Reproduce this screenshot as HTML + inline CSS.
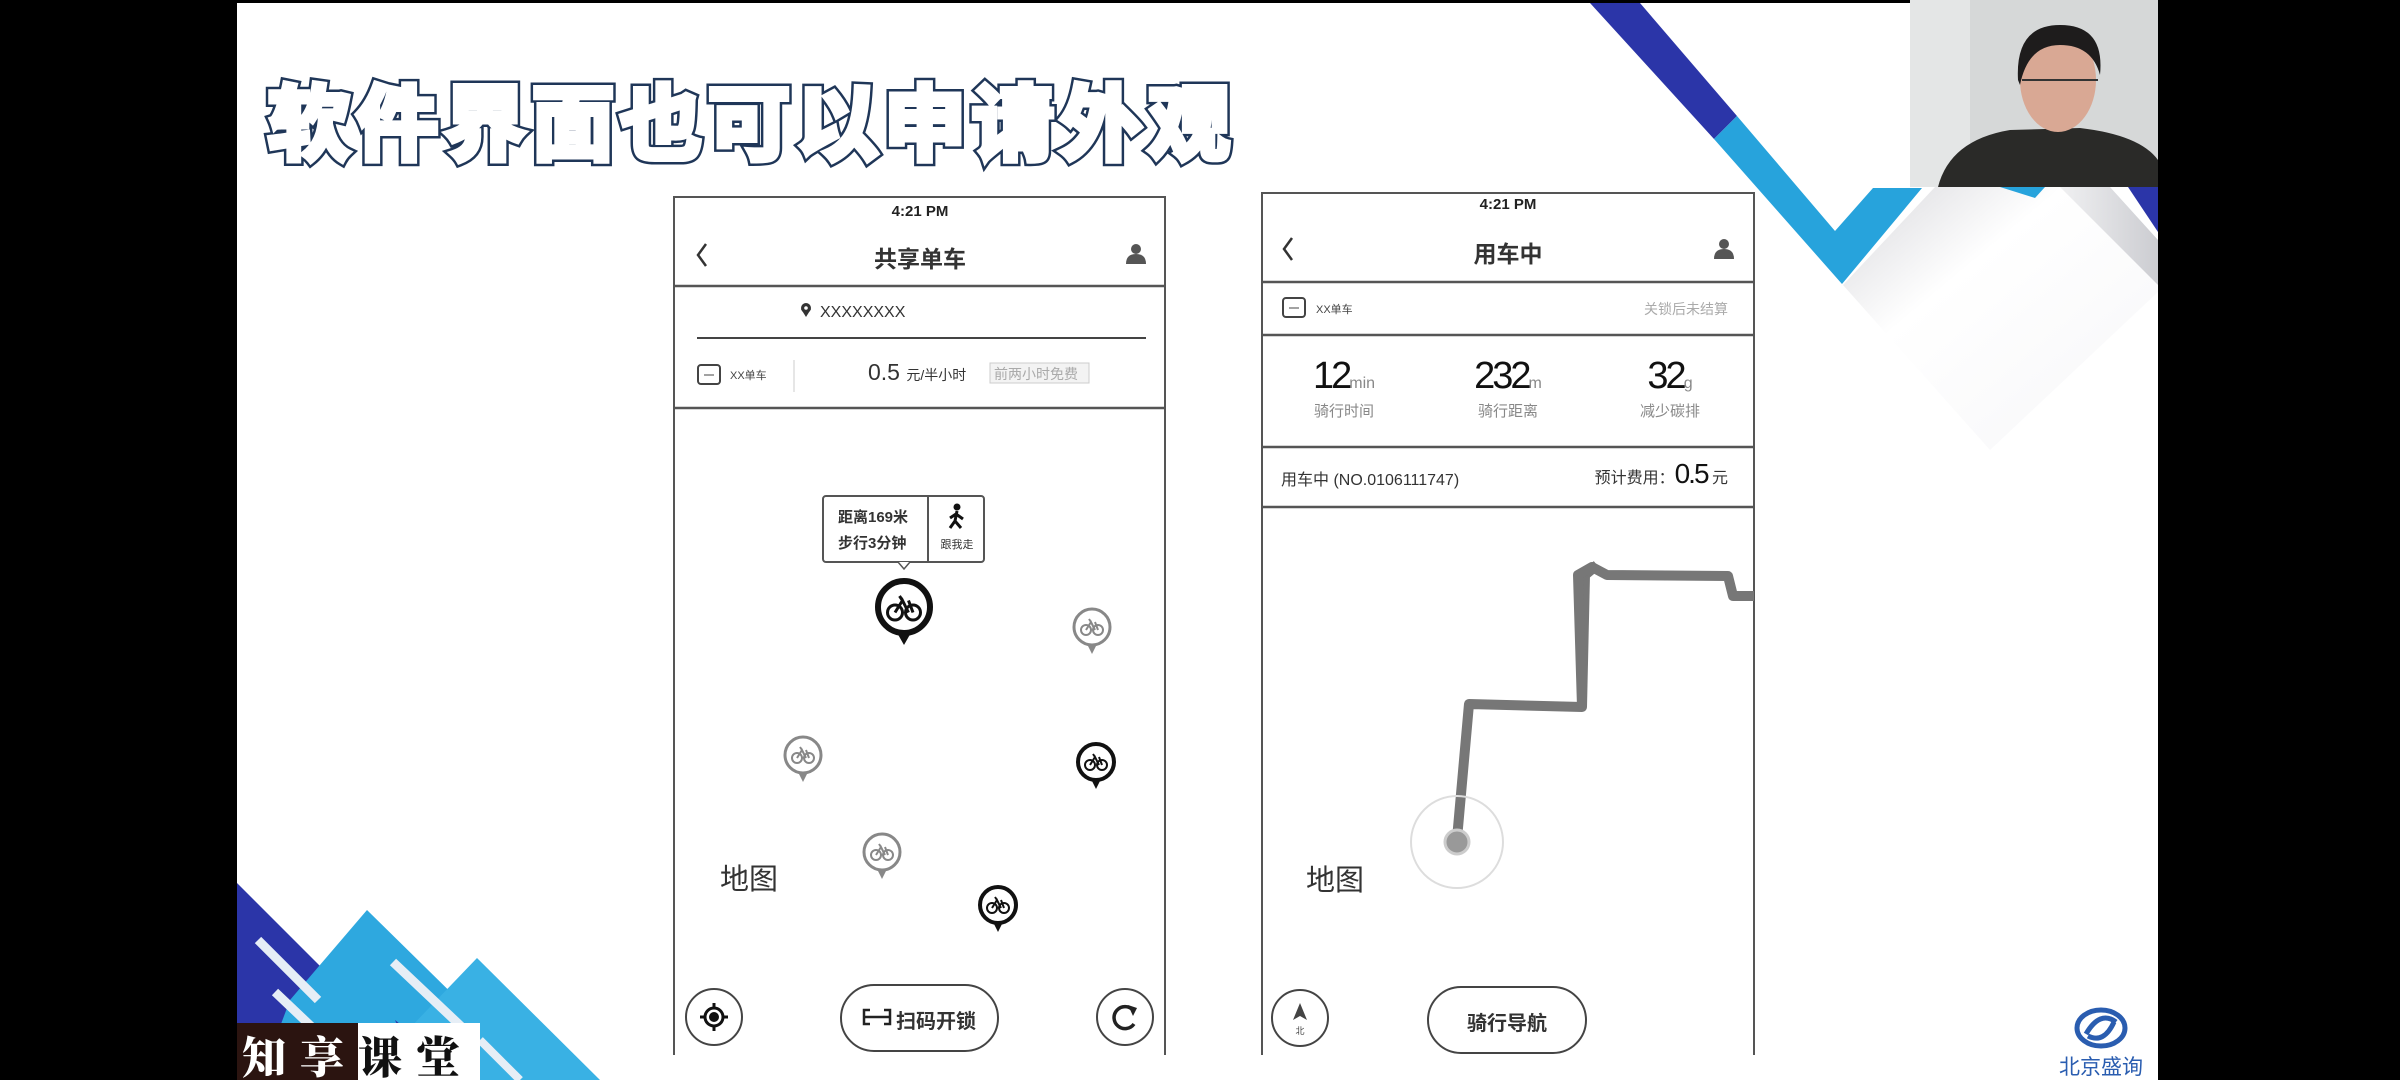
<!DOCTYPE html>
<html><head><meta charset="utf-8">
<style>
*{margin:0;padding:0;box-sizing:border-box}
html,body{width:2400px;height:1080px;overflow:hidden;background:#000}
body{position:relative;font-family:"Liberation Sans","Noto Sans CJK SC",sans-serif;color:#222}
.a{position:absolute;white-space:nowrap}
.ttl{position:absolute;left:268px;top:68px;font-family:"Noto Sans CJK SC",sans-serif;font-weight:700;font-size:82px;letter-spacing:6px;line-height:100px;white-space:nowrap}
.c{transform:translateX(-50%)}
</style></head><body>
<div class="a" style="left:237px;top:3px;width:1921px;height:1077px;background:#fff"></div>

<svg class="a" style="left:0;top:0" width="2400" height="1080" viewBox="0 0 2400 1080">
 <defs>
  <linearGradient id="sh" x1="0" y1="0" x2="1" y2="1"><stop offset="0" stop-color="#d8d8dc"/><stop offset="0.35" stop-color="#fff"/><stop offset="1" stop-color="#f6f6f8"/></linearGradient>
  <linearGradient id="sh2" x1="0" y1="0" x2="1" y2="0"><stop offset="0" stop-color="#fff"/><stop offset="1" stop-color="#bfc0c6"/></linearGradient>
  <g id="bk" fill="none" stroke-width="2"><circle cx="-6" cy="3" r="5"/><circle cx="6" cy="3" r="5"/><path d="M-6,3 L-1,-5 L3,3 M-1,-5 L-3,-8 M3,-5 L6,3"/></g>
 </defs>
 <polygon points="1843,285 1935,187 2060,187 2158,285 2158,292 1990,450" fill="url(#sh)"/>
 <polygon points="2020,187 2060,187 2158,285 2158,240 2110,187" fill="url(#sh2)" opacity="0.8"/>
 <polygon points="1590,3 1640,3 1737,116 1714,139" fill="#2b35a8"/>
 <polygon points="1714,139 1737,116 1835,231 1873,188 1922,188 1842,284" fill="#27a3dc"/>
 <polygon points="2128,187 2158,187 2158,232" fill="#2b35a8"/>
 <polygon points="2000,187 2045,187 2035,198" fill="#27a3dc"/>
 <polygon points="237,883 434,1080 237,1080" fill="#2b35a8"/>
 <polygon points="367,910 540,1080 260,1080 290,1000" fill="#2ea8df"/>
 <polygon points="477,958 600,1080 360,1080" fill="#39b1e4"/>
 <polygon points="395,1020 470,1080 420,1080" fill="#2b35a8"/>
 <line x1="258" y1="940" x2="318" y2="1000" stroke="#e6eef6" stroke-width="9"/>
 <line x1="275" y1="992" x2="315" y2="1030" stroke="#e6eef6" stroke-width="9"/>
 <line x1="393" y1="962" x2="465" y2="1030" stroke="#e6eef6" stroke-width="9"/>
 <line x1="480" y1="1040" x2="520" y2="1080" stroke="#e6eef6" stroke-width="8"/>
 <ellipse cx="2101" cy="1028" rx="24" ry="18" fill="none" stroke="#2a5db0" stroke-width="5"/>
 <path d="M2086,1034 Q2100,1010 2116,1022 M2088,1036 Q2104,1044 2114,1022" stroke="#2a5db0" stroke-width="5" fill="none"/>

 <rect x="674" y="197" width="491" height="880" fill="#fff" stroke="#555" stroke-width="2"/>
 <line x1="674" y1="286" x2="1165" y2="286" stroke="#555" stroke-width="2.5"/>
 <line x1="697" y1="338" x2="1146" y2="338" stroke="#444" stroke-width="2"/>
 <line x1="674" y1="408" x2="1165" y2="408" stroke="#555" stroke-width="2.5"/>
 <path d="M706,244 L698,255 L706,266" fill="none" stroke="#333" stroke-width="2.5"/>
 <circle cx="1136" cy="249" r="5" fill="#555"/><path d="M1126,264 Q1126,254 1136,254 Q1146,254 1146,264 Z" fill="#555"/>
 <circle cx="806" cy="308" r="5" fill="#333"/><path d="M801,309 L806,317 L811,309Z" fill="#333"/><circle cx="806" cy="308" r="1.8" fill="#fff"/>
 <rect x="698" y="365" width="22" height="19" rx="3" fill="none" stroke="#444" stroke-width="2"/><line x1="704" y1="375" x2="714" y2="375" stroke="#444"/>
 <line x1="794" y1="360" x2="794" y2="392" stroke="#ddd" stroke-width="1.5"/>
 <rect x="990" y="363" width="99" height="20" fill="#f3f3f3" stroke="#ccc"/>
 <rect x="823" y="496" width="161" height="66" rx="3" fill="#fff" stroke="#555" stroke-width="2"/>
 <line x1="928" y1="496" x2="928" y2="562" stroke="#555" stroke-width="2"/>
 <path d="M898,562 L904,569 L910,562" fill="#fff" stroke="#555" stroke-width="1.5"/>
 <circle cx="957" cy="507" r="3.5" fill="#111"/>
 <path d="M957,511 L955,521 L950,528 M955,521 L961,528 M956,514 L950,518 M956,514 L963,519" stroke="#111" stroke-width="3" fill="none"/>
 <circle cx="904" cy="607" r="26" fill="#fff" stroke="#111" stroke-width="6"/><path d="M896,631 L904,645 L912,631Z" fill="#111"/>
 <g transform="translate(904,608) scale(1.5)" stroke="#111"><use href="#bk"/></g>
 <g stroke="#888"><circle cx="1092" cy="627" r="18" fill="#fff" stroke-width="3"/><path d="M1087,644 L1092,654 L1097,644Z" fill="#888" stroke="none"/><use href="#bk" x="1092" y="627"/></g>
 <g stroke="#888"><circle cx="803" cy="755" r="18" fill="#fff" stroke-width="3"/><path d="M798,772 L803,782 L808,772Z" fill="#888" stroke="none"/><use href="#bk" x="803" y="755"/></g>
 <g stroke="#888"><circle cx="882" cy="852" r="18" fill="#fff" stroke-width="3"/><path d="M877,869 L882,879 L887,869Z" fill="#888" stroke="none"/><use href="#bk" x="882" y="852"/></g>
 <g stroke="#111"><circle cx="1096" cy="762" r="18" fill="#fff" stroke-width="4"/><path d="M1091,779 L1096,789 L1101,779Z" fill="#111" stroke="none"/><use href="#bk" x="1096" y="762"/></g>
 <g stroke="#111"><circle cx="998" cy="905" r="18" fill="#fff" stroke-width="4"/><path d="M993,922 L998,932 L1003,922Z" fill="#111" stroke="none"/><use href="#bk" x="998" y="905"/></g>
 <circle cx="714" cy="1017" r="28" fill="#fff" stroke="#444" stroke-width="2"/>
 <circle cx="714" cy="1017" r="9" fill="none" stroke="#111" stroke-width="3"/><circle cx="714" cy="1017" r="5" fill="#111"/>
 <path d="M714,1003 V1008 M714,1026 V1031 M700,1017 H705 M723,1017 H728" stroke="#111" stroke-width="3"/>
 <rect x="841" y="985" width="157" height="66" rx="33" fill="#fff" stroke="#444" stroke-width="2"/>
 <path d="M870,1010 h-6 v14 h6 M884,1010 h6 v14 h-6 M864,1017 h26" stroke="#222" stroke-width="2.5" fill="none"/>
 <circle cx="1125" cy="1017" r="28" fill="#fff" stroke="#444" stroke-width="2"/>
 <path d="M1133,1010 A11,11 0 1 0 1134,1024" fill="none" stroke="#222" stroke-width="3.5"/><path d="M1128,1005 L1137,1008 L1133,1016Z" fill="#222"/>
 <rect x="672" y="1055" width="500" height="25" fill="#fff"/>

 <rect x="1262" y="193" width="492" height="880" fill="#fff" stroke="#555" stroke-width="2"/>
 <line x1="1262" y1="282" x2="1754" y2="282" stroke="#555" stroke-width="2.5"/>
 <line x1="1262" y1="335" x2="1754" y2="335" stroke="#555" stroke-width="2.5"/>
 <line x1="1262" y1="447" x2="1754" y2="447" stroke="#555" stroke-width="2.5"/>
 <line x1="1262" y1="507" x2="1754" y2="507" stroke="#555" stroke-width="2.5"/>
 <path d="M1292,238 L1284,249 L1292,260" fill="none" stroke="#333" stroke-width="2.5"/>
 <circle cx="1724" cy="244" r="5" fill="#555"/><path d="M1714,259 Q1714,249 1724,249 Q1734,249 1734,259 Z" fill="#555"/>
 <rect x="1283" y="298" width="22" height="19" rx="3" fill="none" stroke="#444" stroke-width="2"/><line x1="1289" y1="308" x2="1299" y2="308" stroke="#444"/>
 <path d="M1597,565 L1585,575 L1582,707 L1469,704 L1457,839" fill="none" stroke="#777" stroke-width="10" stroke-linejoin="round"/>
 <path d="M1582,707 L1578,575 L1592,567 L1607,575 L1728,576 L1733,596 L1754,596" fill="none" stroke="#777" stroke-width="10" stroke-linejoin="round"/>
 <circle cx="1457" cy="842" r="46" fill="none" stroke="#ddd" stroke-width="2"/>
 <circle cx="1457" cy="842" r="12" fill="#999" stroke="#ccc" stroke-width="3"/>
 <circle cx="1300" cy="1018" r="28" fill="#fff" stroke="#444" stroke-width="2"/>
 <path d="M1300,1003 L1293,1020 L1300,1016 L1307,1020Z" fill="#444"/>
 <rect x="1428" y="987" width="158" height="66" rx="33" fill="#fff" stroke="#444" stroke-width="2"/>
 <rect x="1260" y="1055" width="500" height="25" fill="#fff"/>

 <rect x="1910" y="0" width="248" height="187" fill="#d6d8d8"/>
 <rect x="1910" y="0" width="60" height="187" fill="#e4e6e6"/>
 <path d="M1938,187 Q1950,140 2010,130 L2080,128 Q2140,135 2158,160 L2158,187Z" fill="#2a2a28"/>
 <ellipse cx="2058" cy="80" rx="38" ry="52" fill="#d9a894"/>
 <path d="M2018,80 Q2015,25 2060,25 Q2105,25 2100,75 Q2092,45 2060,45 Q2028,45 2020,85Z" fill="#1e1c1c"/>
 <path d="M2022,80 H2098" stroke="#333" stroke-width="2"/>
</svg>

<div class="ttl" style="color:#1f3658;-webkit-text-stroke:11px #1f3658">软件界面也可以申请外观</div>
<div class="ttl" style="color:#fff;-webkit-text-stroke:6px #fff">软件界面也可以申请外观</div>

<div class="a c" style="left:920px;top:203px;font-size:15px;font-weight:bold">4:21 PM</div>
<div class="a c" style="left:920px;top:240px;font-size:23px;font-weight:bold;color:#333">共享单车</div>
<div class="a" style="left:820px;top:304px;font-size:16px;color:#333">XXXXXXXX</div>
<div class="a" style="left:730px;top:367px;font-size:11px;color:#444">XX单车</div>
<div class="a" style="left:868px;top:359px;font-size:23px;color:#333">0.5 <span style="font-size:14px">元/半小时</span></div>
<div class="a" style="left:994px;top:364px;font-size:14px;color:#aaa">前两小时免费</div>
<div class="a" style="left:838px;top:505px;font-size:15px;color:#333;font-weight:bold;line-height:26px">距离169米<br>步行3分钟</div>
<div class="a c" style="left:957px;top:536px;font-size:11px;color:#333">跟我走</div>
<div class="a" style="left:720px;top:856px;font-size:29px;color:#333">地图</div>
<div class="a" style="left:896px;top:1005px;font-size:20px;font-weight:bold;color:#333">扫码开锁</div>

<div class="a c" style="left:1508px;top:196px;font-size:15px;font-weight:bold">4:21 PM</div>
<div class="a c" style="left:1508px;top:235px;font-size:23px;font-weight:bold;color:#333">用车中</div>
<div class="a" style="left:1316px;top:301px;font-size:11px;color:#444">XX单车</div>
<div class="a" style="right:672px;top:299px;font-size:14px;color:#aaa">关锁后未结算</div>
<div class="a c" style="left:1344px;top:355px;font-size:38px;color:#111;letter-spacing:-3px">12<span style="font-size:16px;color:#888;letter-spacing:0">min</span></div>
<div class="a c" style="left:1508px;top:355px;font-size:38px;color:#111;letter-spacing:-3px">232<span style="font-size:16px;color:#888;letter-spacing:0">m</span></div>
<div class="a c" style="left:1670px;top:355px;font-size:38px;color:#111;letter-spacing:-3px">32<span style="font-size:16px;color:#888;letter-spacing:0">g</span></div>
<div class="a c" style="left:1344px;top:400px;font-size:15px;color:#888">骑行时间</div>
<div class="a c" style="left:1508px;top:400px;font-size:15px;color:#888">骑行距离</div>
<div class="a c" style="left:1670px;top:400px;font-size:15px;color:#888">减少碳排</div>
<div class="a" style="left:1281px;top:466px;font-size:16px;color:#333">用车中 (NO.0106111747)</div>
<div class="a" style="right:672px;top:458px;font-size:16px;color:#333">预计费用：<span style="font-size:28px;color:#111;letter-spacing:-2px">0.5</span> 元</div>
<div class="a" style="left:1306px;top:857px;font-size:29px;color:#333">地图</div>
<div class="a c" style="left:1300px;top:1024px;font-size:9px;color:#444">北</div>
<div class="a c" style="left:1507px;top:1007px;font-size:20px;font-weight:bold;color:#333">骑行导航</div>

<div class="a c" style="left:2101px;top:1051px;font-size:21px;color:#2a5db0">北京盛询</div>

<div class="a" style="left:237px;top:1023px;width:121px;height:57px;background:#2b1410"></div>
<div class="a" style="left:358px;top:1023px;width:122px;height:57px;background:#fff"></div>
<div class="a" style="left:242px;top:1030px;font-family:'Noto Serif CJK SC',serif;font-weight:900;font-size:44px;line-height:48px;letter-spacing:14px"><span style="color:#fff">知享</span><span style="color:#111">课堂</span></div>
</body></html>
